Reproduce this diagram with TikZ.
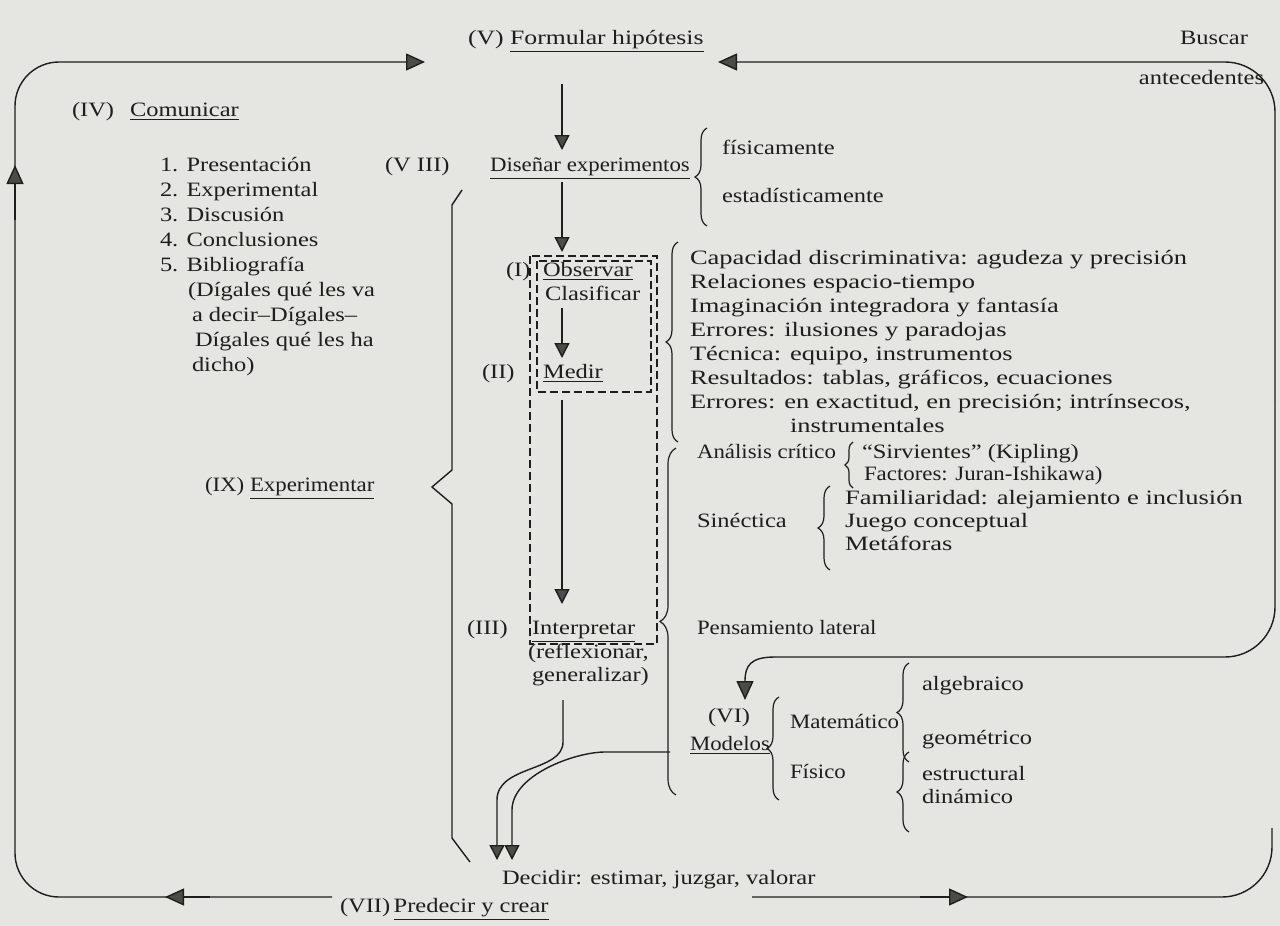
\documentclass[tikz,border=0pt]{standalone}
\usepackage{fontspec}
\setmainfont{Liberation Serif}[FakeStretch=1.2]
\newfontfamily\fnarrow{Liberation Serif}[FakeStretch=1.12]
\newfontfamily\fmid{Liberation Serif}[FakeStretch=1.26]
\newfontfamily\fwide{Liberation Serif}[FakeStretch=1.3]
\usetikzlibrary{arrows.meta,decorations.pathreplacing}
\definecolor{paper}{RGB}{229,229,226}
\definecolor{ink}{RGB}{30,30,30}
\definecolor{headfill}{RGB}{75,75,75}
\begin{document}
\begin{tikzpicture}[x=0.5pt,y=-0.5pt,
  txt/.style={anchor=base west, inner sep=0pt, outer sep=0pt, text=ink, font=\fontsize{10.2pt}{12pt}\selectfont},
  line/.style={draw=ink, line width=0.7pt},
  tri/.style={-{Triangle[length=9.5pt,width=8.5pt,fill=headfill]}},
  stri/.style={-{Triangle[length=7.5pt,width=7.5pt,fill=headfill]}},
  dbox/.style={draw=ink, line width=0.6pt, dash pattern=on 4pt off 2pt},
  lbrace/.style={draw=ink, line width=0.6pt, decorate, decoration={brace, amplitude=#1}},
  lbrace/.default=6pt
]
\fill[paper] (0,0) rectangle (1280,926);

% ---- top
\node[txt] (fV) at (468,44) {\fmid (V) \underline{Formular hipótesis}};
\node[txt, anchor=base east] (busc) at (1248,44) {Buscar};
\node[txt, anchor=base east] (ante) at (1264,84) {antecedentes};

% ---- left: comunicar
\node[txt] (iv) at (72,116) {(IV)};
\node[txt] (comunicar) at (130,116) {\underline{Comunicar}};
\node[txt] (l1) at (160,171) {1. Presentación};
\node[txt] (l2) at (160,196) {2. Experimental};
\node[txt] (l3) at (160,221) {3. Discusión};
\node[txt] (l4) at (160,246) {4. Conclusiones};
\node[txt] (l5) at (160,271) {5. Bibliografía};
\node[txt] (l6) at (188,296) {(Dígales qué les va};
\node[txt] (l7) at (192,321) {a decir–Dígales–};
\node[txt] (l8) at (195,346) {Dígales qué les ha};
\node[txt] (l9) at (192,371) {dicho)};

% ---- centre column
\node[txt] (viii) at (385,171) {(V III)};
\node[txt] (disenar) at (490,171) {\fnarrow\underline{Diseñar experimentos}};
\node[txt] (fis) at (722,154) {físicamente};
\node[txt] (est) at (722,202) {estadísticamente};
\draw[lbrace] (707,226) -- (707,128);

\node[txt] (onum) at (506,276) {(I)};
\node[txt] (obs) at (543,276) {\underline{Observar}};
\node[txt] (clas) at (545,300) {Clasificar};
\node[txt] (iinum) at (482,378) {(II)};
\node[txt] (medir) at (543,378) {\underline{Medir}};
\node[txt] (iiinum) at (467,634) {(III)};
\node[txt] (interp) at (532,634) {\underline{Interpretar}};
\node[txt] (refl) at (528,658) {(reflexionar,};
\node[txt] (gen) at (532,681) {generalizar)};

\draw[dbox] (530,256) rectangle (657,644);
\draw[dbox] (537,261) rectangle (651,392);

\coordinate (a1s) at (562,84);  \coordinate (a1e) at (562,150);
\coordinate (a2s) at (562,182); \coordinate (a2e) at (562,252);
\coordinate (a3s) at (562,308); \coordinate (a3e) at (562,358);
\coordinate (a4s) at (562,400); \coordinate (a4e) at (562,604);
\draw[line,stri] (a1s) -- (a1e);
\draw[line,stri] (a2s) -- (a2e);
\draw[line,stri] (a3s) -- (a3e);
\draw[line,stri] (a4s) -- (a4e);

% ---- experimentar bracket
\node[txt] (ix) at (205,491) {\fnarrow(IX) \underline{Experimentar}};
\draw[line] (462,190) -- (452,205) -- (452,470) -- (432,487) -- (452,504) -- (452,838) -- (470,862);

% ---- right list
\node[txt] (r1) at (690,264) {\fwide Capacidad discriminativa: agudeza y precisión};
\node[txt] (r2) at (690,288) {\fwide Relaciones espacio-tiempo};
\node[txt] (r3) at (690,312) {\fwide Imaginación integradora y fantasía};
\node[txt] (r4) at (690,336) {\fwide Errores: ilusiones y paradojas};
\node[txt] (r5) at (690,360) {\fwide Técnica: equipo, instrumentos};
\node[txt] (r6) at (690,384) {\fwide Resultados: tablas, gráficos, ecuaciones};
\node[txt] (r7) at (690,408) {\fwide Errores: en exactitud, en precisión; intrínsecos,};
\node[txt] (r8) at (790,432) {\fwide instrumentales};
\draw[lbrace] (678,442) -- (678,242);

\node[txt] (anal) at (697,458) {\fnarrow Análisis crítico};
\node[txt] (sirv) at (862,458) {“Sirvientes” (Kipling)};
\node[txt] (fact) at (864,480) {\fnarrow Factores: Juran-Ishikawa)};
\draw[lbrace=4pt] (853,488) -- (853,442);
\node[txt] (sin) at (697,527) {Sinéctica};
\node[txt] (fam) at (845,504) {\fwide Familiaridad: alejamiento e inclusión};
\node[txt] (jue) at (845,527) {\fwide Juego conceptual};
\node[txt] (met) at (845,550) {\fwide Metáforas};
\draw[lbrace] (830,570) -- (830,486);
\node[txt] (pens) at (697,634) {\fnarrow Pensamiento lateral};
\draw[lbrace=8pt] (676,795) -- (676,448);

% ---- modelos
\node[txt] (vi) at (708,722) {(VI)};
\node[txt] (mod) at (690,750) {\fnarrow\underline{Modelos}};
\node[txt] (mat) at (790,728) {\fnarrow Matemático};
\node[txt] (fisi) at (790,778) {\fnarrow Físico};
\draw[lbrace] (779,800) -- (779,697);
\node[txt] (alg) at (922,690) {algebraico};
\node[txt] (geo) at (922,744) {geométrico};
\node[txt] (estr) at (922,780) {estructural};
\node[txt] (din) at (922,803) {dinámico};
\draw[lbrace] (909,762) -- (909,663);
\draw[lbrace] (909,832) -- (909,752);

% ---- bottom
\node[txt] (dec) at (502,884) {Decidir: estimar, juzgar, valorar};
\node[txt] (pred) at (340,912) {(VII)\,\underline{Predecir y crear}};

% ---- loops
\coordinate (pl) at (332,897);
\coordinate (pr) at (752,897);
\draw[line,tri,rounded corners=22pt] (pl) -- (15,897) -- (15,62) -- (425,62);
\draw[line,tri] (210,897) -- (165,897);
\draw[line,tri] (15,220) -- (15,165);

\coordinate (rmid) at (1275,400);
\draw[line,tri,rounded corners=25pt] (rmid) -- (1275,62) -- (718,62);
\draw[line,rounded corners=25pt] (rmid) -- (1275,657) -- (775,657);
\draw[line,tri] (775,657) .. controls (750,657) and (745,666) .. (745,700);

\draw[line,rounded corners=25pt] (pr) -- (1272,897) -- (1272,828);
\draw[line,tri] (920,897) -- (968,897);

% ---- double arrows into Decidir
\coordinate (g1) at (563,700);
\coordinate (m1) at (670,752);
\draw[line,stri] (g1) -- (563,742) .. controls (563,772) and (497,765) .. (497,800) -- (497,860);
\draw[line,stri] (m1) -- (605,752) .. controls (575,752) and (512,775) .. (512,810) -- (512,860);
\end{tikzpicture}
\end{document}
